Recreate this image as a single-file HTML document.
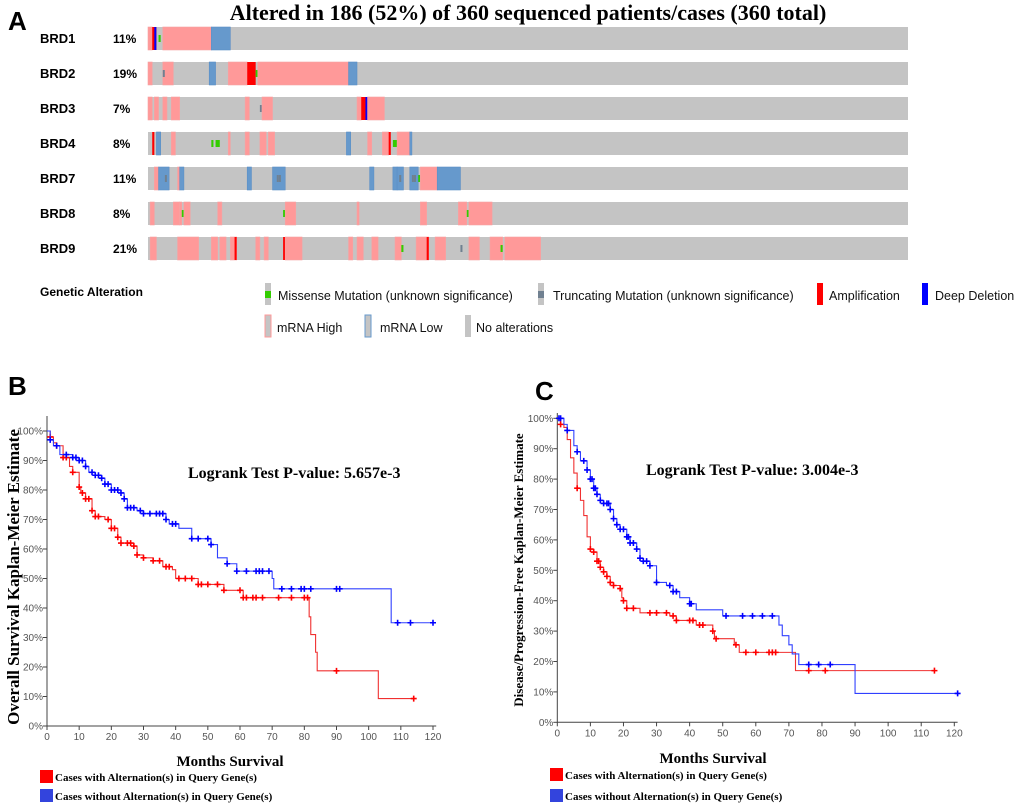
<!DOCTYPE html>
<html><head><meta charset="utf-8">
<style>
body{margin:0;background:#fff;width:1020px;height:808px;overflow:hidden;}
svg{display:block;}
.tk{font-family:"Liberation Sans",sans-serif;font-size:10px;fill:#555;}
.ser{font-family:"Liberation Serif",serif;font-weight:bold;fill:#000;}
.sans{font-family:"Liberation Sans",sans-serif;}
</style></head>
<body>
<svg id="fig" width="1020" height="808" viewBox="0 0 1020 808">
<text x="8" y="30" class="sans" font-size="26" font-weight="bold">A</text>
<text x="8" y="395" class="sans" font-size="26" font-weight="bold">B</text>
<text x="535" y="400" class="sans" font-size="26" font-weight="bold">C</text>
<text x="528" y="20" text-anchor="middle" class="ser" font-size="22">Altered in 186 (52%) of 360 sequenced patients/cases (360 total)</text>
<g id="onco"></g>
<g id="legA">
<text x="40" y="296" class="sans" font-size="12" font-weight="bold">Genetic Alteration</text>
</g>
<g id="kmB"></g>
<g id="kmC"></g>
</svg>
<script>
const NS="http://www.w3.org/2000/svg";
function mk(tag,attrs,parent){const e=document.createElementNS(NS,tag);for(const k in attrs)e.setAttribute(k,attrs[k]);parent.appendChild(e);return e;}

// ===== Oncoprint data =====
const genes=["BRD1","BRD2","BRD3","BRD4","BRD7","BRD8","BRD9"];
const percents=["11%","19%","7%","8%","11%","8%","21%"];
const nPatients=360;
// [startIndex, length, type]  H=mRNA high, L=mRNA low, A=amp, D=deep del, M=missense, T=truncating
const alt=[
 [[0,2,"H"],[2,2,"A"],[3,1,"D"],[5,1,"M"],[7,23,"H"],[30,9,"L"]],
 [[0,2,"H"],[7,5,"H"],[7,1,"T"],[29,3,"L"],[38,9,"H"],[47,4,"A"],[51,1,"M"],[52,43,"H"],[95,4,"L"]],
 [[0,2,"H"],[3,2,"H"],[7,2,"H"],[11,4,"H"],[46,2,"H"],[53,1,"T"],[54,5,"H"],[99,2,"H"],[101,3,"A"],[103,1,"D"],[104,8,"H"]],
 [[2,1,"A"],[4,2,"L"],[11,2,"H"],[30,1,"M"],[32,2,"M"],[38,1,"H"],[46,2,"H"],[53,3,"H"],[57,3,"H"],[94,2,"L"],[104,2,"H"],[111,3,"H"],[114,1,"A"],[116,2,"M"],[118,6,"H"],[124,1,"L"]],
 [[3,2,"H"],[5,5,"L"],[8,1,"T"],[14,1,"H"],[15,2,"L"],[47,2,"L"],[59,6,"L"],[61,1,"T"],[62,1,"T"],[105,2,"L"],[116,2,"L"],[118,3,"L"],[119,1,"T"],[124,4,"L"],[125,1,"T"],[126,1,"T"],[128,1,"M"],[129,8,"H"],[137,11,"L"]],
 [[1,2,"H"],[12,3,"H"],[15,1,"H"],[16,1,"M"],[17,3,"H"],[33,2,"H"],[64,1,"M"],[65,5,"H"],[99,1,"H"],[129,3,"H"],[147,4,"H"],[151,1,"M"],[152,11,"H"]],
 [[1,3,"H"],[14,10,"H"],[30,3,"H"],[34,3,"H"],[39,3,"H"],[41,1,"A"],[51,2,"H"],[55,2,"H"],[64,1,"A"],[65,8,"H"],[95,2,"H"],[99,3,"H"],[106,3,"H"],[117,3,"H"],[120,1,"M"],[127,6,"H"],[132,1,"A"],[136,5,"H"],[148,1,"T"],[152,5,"H"],[162,6,"H"],[167,1,"M"],[169,17,"H"]]
];
const trackX0=148, trackX1=908, rowY0=27, rowStep=35, rowH=23;
const onco=document.getElementById("onco");
const pw=(trackX1-trackX0)/nPatients;
genes.forEach((g,i)=>{
  const y=rowY0+i*rowStep;
  const gl=mk("text",{x:40,y:y+16,class:"sans","font-size":13,"font-weight":"bold"},onco);gl.textContent=g;
  
  
  const pl=mk("text",{x:113,y:y+16,class:"sans","font-size":12,"font-weight":"bold"},onco);pl.textContent=percents[i];
  
  
  const bg=mk("rect",{x:trackX0,y:y,width:trackX1-trackX0,height:rowH,fill:"#c4c4c4"},onco);
  
  
  alt[i].forEach(s=>{
    const x=trackX0+s[0]*pw, w=Math.max(s[1]*pw,1.6);
    let r;
    if(s[2]==="H") r=mk("rect",{x:x,y:y,width:w,height:rowH,fill:"#ff9999",stroke:"#f5a3a3","stroke-width":0.6},onco);
    else if(s[2]==="L") r=mk("rect",{x:x,y:y,width:w,height:rowH,fill:"#6699cc",stroke:"#5b8fc7","stroke-width":0.6},onco);
    else if(s[2]==="A") r=mk("rect",{x:x,y:y,width:w,height:rowH,fill:"#ff0000"},onco);
    else if(s[2]==="D") r=mk("rect",{x:x,y:y,width:Math.min(w,2),height:rowH,fill:"#0000ff"},onco);
    else if(s[2]==="M") r=mk("rect",{x:x,y:y+8,width:w,height:7,fill:"#33cc00"},onco);
    else r=mk("rect",{x:x,y:y+8,width:Math.min(w,2),height:7,fill:"#708090"},onco);
    
    
  });
});
// legend
const legA=document.getElementById("legA");
const legItems=[
 [265,283,"#c4c4c4","M","Missense Mutation (unknown significance)",278,296],
 [538,283,"#c4c4c4","T","Truncating Mutation (unknown significance)",553,296],
 [817,283,"#ff0000","","Amplification",829,296],
 [922,283,"#0000ff","","Deep Deletion",935,296],
 [265,315,"#c4c4c4","H","mRNA High",277,328],
 [365,315,"#c4c4c4","L","mRNA Low",380,328],
 [465,315,"#c4c4c4","","No alterations",476,328]
];
legItems.forEach(it=>{
  const sw=mk("rect",{x:it[0],y:it[1],width:6,height:22,fill:it[2]},legA);
  if(it[3]==="H") sw.setAttribute("stroke","#ff9999");
  if(it[3]==="L") sw.setAttribute("stroke","#6699cc");
  
  
  if(it[3]==="M") mk("rect",{x:it[0],y:it[1]+8,width:6,height:7,fill:"#33cc00"},legA);
  if(it[3]==="T") mk("rect",{x:it[0],y:it[1]+8,width:6,height:7,fill:"#708090"},legA);
  const t=mk("text",{x:it[5],y:it[6]+4,class:"sans","font-size":12.5,fill:"#111"},legA);t.textContent=it[4];
  
  
});

// ===== KM data =====
const xTicks=[0,10,20,30,40,50,60,70,80,90,100,110,120];
const yTicks=[0,10,20,30,40,50,60,70,80,90,100];
const bRed=[[0,100],[1,98],[2,96],[3,95],[5,91],[7,88],[8,86],[10,81],[10.5,79],[12,77],[14,73],[15,71],[18,70],[20,67],[22,64],[23,62],[27,61],[28,58],[30,57],[33,56],[36,54],[39,53],[40,50],[47,48],[54,48],[55,46],[60,46],[61,43.5],[81,43.5],[81.5,37],[82,31],[83.5,25],[84,18.7],[103,18.7],[103,9.3],[114,9.3]];
const bRedCens=[1,3,5,6,8,10,11,12,13,14,15,16,19,20,21,22,23,25,26,27,28,30,33,35,37,38,41,43,45,47,48,50,53,55,60,61,62,64,65,67,72,76,80,81,90,114];
const bBlue=[[0,100],[1,97],[2,95],[4,92],[8,91],[10,90],[12,88],[13,86],[15,85],[17,84],[18,82],[20,80],[23,79],[24,77],[25,74],[28,73],[30,72],[37,70],[38,68.5],[41,67],[45,63.5],[51,61.5],[53,57],[56,55],[59,52.5],[70,50],[70.5,46.5],[107,46.5],[107,35],[120,35]];
const bBlueCens=[1,3,6,8,9,10,11,12,14,15,16,17,18,19,20,21,22,23,24,25,26,27,29,30,32,34,35,36,37,39,40,45,47,50,51,56,59,62,65,66,67,69,73,76,79,80,82,90,91,109,113,120];
const cRed=[[0,100],[1,98],[2,97],[3,93],[4,87],[5,82],[6,77],[7,73],[8,68],[9,61],[10,57],[11,56],[12,53],[13,51],[14,49.5],[15,48],[16,46],[17,45],[19,44],[19.5,41],[20,40],[21,37.5],[25,36],[33,36],[34,35],[36,33.5],[40,33.5],[42,32],[47,30],[47.5,27.5],[53.5,25.5],[55,23],[72,23],[72,17],[114,17]];
const cRedCens=[1,6,10,11,12,12.5,13,14,15,16,17,19,20,21,23,28,30,33,35,36,40,41,43,44,47,48,54,57,60,64,65,66,76,81,114];
const cBlue=[[0,100],[2,98],[3,96],[5,91],[6,89],[7,86],[9,83],[10,80],[11,77],[12,75],[13,73],[14,72],[16,70],[17,67],[18,65],[19,63.5],[21,61],[22,59],[24,57],[25,54],[26,53],[28,51.5],[30,46],[33,45],[35,43],[37,41],[40,39],[42,37],[50,35],[66,35],[67,32],[68,28.5],[70,25.5],[71,22.5],[73,19],[90,19],[90,9.5],[121,9.5]];
const cBlueCens=[0.5,1,3,6,8,9,10,10.5,11,11.5,12,13,14,15,15.5,16,17,18,19,20,21,21.5,22,23,24,25,26,27,28,30,34,35,36,40,40.5,51,56,59,62,65,76,79,82.5,121];

function survAt(curve,t){let v=curve[0][1];for(const p of curve){if(p[0]<=t)v=p[1];else break;}return v;}

function km(gid,cfg){
  const g=document.getElementById(gid);
  const X=m=>cfg.x0+m*(cfg.x1-cfg.x0)/120;
  const Y=p=>cfg.y0-p*(cfg.y0-cfg.y1)/100;
  const ax=mk("path",{d:`M${X(0)},${cfg.top} V${Y(0)} H${X(121)}`,stroke:"#444",fill:"none","stroke-width":1},g);
  
  
  xTicks.forEach(t=>{
    mk("line",{x1:X(t),x2:X(t),y1:Y(0),y2:Y(0)+4,stroke:"#444"},g);
    const l=mk("text",{x:X(t),y:Y(0)+14,"text-anchor":"middle",class:"tk"},g);l.textContent=t;
    
    
  });
  yTicks.forEach(t=>{
    mk("line",{x1:X(0)-4,x2:X(0),y1:Y(t),y2:Y(t),stroke:"#444"},g);
    const l=mk("text",{x:X(0)-4,y:Y(t)+3.5,"text-anchor":"end",class:"tk"},g);l.textContent=t+"%";
    
    
  });
  [[cfg.red,cfg.redC,"#ff0000","#f03030"],[cfg.blue,cfg.blueC,"#0000ff","#3040ff"]].forEach(([c,cs,col,lc],k)=>{
    let d=`M${X(c[0][0])},${Y(c[0][1])}`;
    for(let i=1;i<c.length;i++){d+=` H${X(c[i][0])} V${Y(c[i][1])}`;}
    const p=mk("path",{d:d,stroke:lc,fill:"none","stroke-width":1.1},g);
    
    
    cs.forEach(t=>{
      const cx=X(t),cy=Y(survAt(c,t));
      const m=mk("path",{d:`M${cx-3},${cy} H${cx+3} M${cx},${cy-3} V${cy+3}`,stroke:col,"stroke-width":1.6},g);
      
      
    });
  });
  const pv=mk("text",{x:cfg.pvx,y:cfg.pvy,class:"ser","font-size":16},g);pv.textContent=cfg.pv;
  
  
  const yl=mk("text",{x:0,y:0,class:"ser","font-size":cfg.ylfs,"text-anchor":"middle",transform:`translate(${cfg.ylx},${cfg.yly}) rotate(-90)`},g);yl.textContent=cfg.ylab;
  
  
  const xl=mk("text",{x:cfg.xlx,y:cfg.xly,class:"ser","font-size":15,"text-anchor":"middle"},g);xl.textContent="Months Survival";
  
  
  [["#ff0000","Cases with Alternation(s) in Query Gene(s)",0],["#3344dd","Cases without Alternation(s) in Query Gene(s)",1]].forEach(([col,txt,k])=>{
    const sq=mk("rect",{x:cfg.lgx,y:cfg.lgy+k*cfg.lgs,width:13,height:13,fill:col},g);
    
    
    const t=mk("text",{x:cfg.lgx+15,y:cfg.lgy+k*cfg.lgs+11,class:"ser","font-size":11},g);t.textContent=txt;
    
    
  });
}
km("kmB",{x0:47,x1:433,y0:726,y1:431,top:416,red:bRed,redC:bRedCens,blue:bBlue,blueC:bBlueCens,pv:"Logrank Test P-value: 5.657e-3",pvx:188,pvy:478,ylab:"Overall Survival Kaplan-Meier Estimate",ylfs:17,ylx:19,yly:577,xlx:230,xly:766,lgx:40,lgy:770,lgs:19});
km("kmC",{x0:557.3,x1:954.3,y0:722.3,y1:418.3,top:413,red:cRed,redC:cRedCens,blue:cBlue,blueC:cBlueCens,pv:"Logrank Test P-value: 3.004e-3",pvx:646,pvy:475,ylab:"Disease/Progression-Free Kaplan-Meier Estimate",ylfs:13,ylx:523,yly:570,xlx:713,xly:763,lgx:550,lgy:768,lgs:21});
</script>
</body></html>
